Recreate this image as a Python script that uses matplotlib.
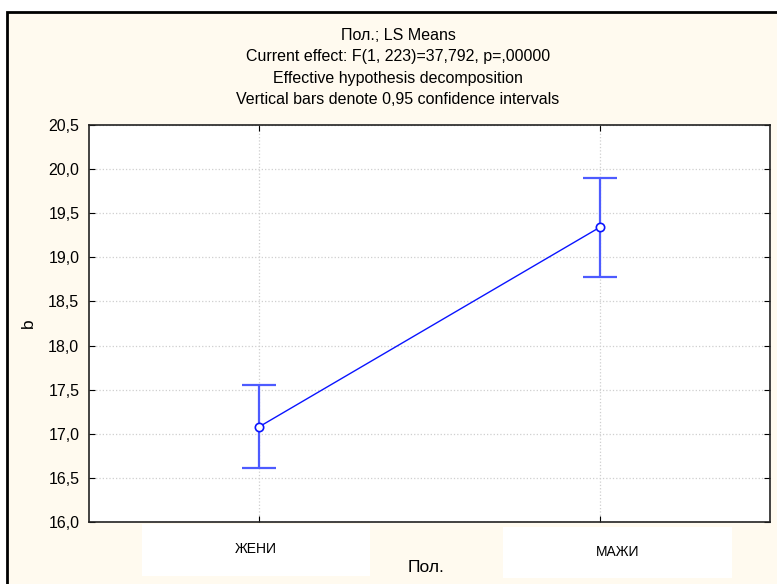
import matplotlib
matplotlib.use("Agg")
import matplotlib.pyplot as plt
from matplotlib.patches import Rectangle
import matplotlib.transforms as mtransforms

plt.rcParams['font.family'] = ['Liberation Sans', 'DejaVu Sans']

categories = ["ЖЕНИ", "МАЖИ"]
means = [17.08, 19.34]
ci_low = [16.61, 18.78]
ci_high = [17.55, 19.90]
yticks = [16.0, 16.5, 17.0, 17.5, 18.0, 18.5, 19.0, 19.5, 20.0, 20.5]
ytick_labels = ["16,0", "16,5", "17,0", "17,5", "18,0", "18,5", "19,0", "19,5", "20,0", "20,5"]
title_lines = ["Пол.; LS Means",
               "Current effect: F(1, 223)=37,792, p=,00000",
               "Effective hypothesis decomposition",
               "Vertical bars denote 0,95 confidence intervals"]

W, H = 777, 584
AX_L, AX_R, AX_T, AX_B = 89, 770, 125, 522
fig = plt.figure(figsize=(W / 100, H / 100), dpi=100)
fig.patch.set_facecolor('white')

# outer cream panel with black frame (cropped on right/bottom)
frame = Rectangle((7 / W, -0.05), 1.1, (H - 12) / H + 0.05, transform=fig.transFigure,
                  facecolor='#FFFAEF', edgecolor='black', linewidth=2, zorder=0)
fig.patches.append(frame)

ax = fig.add_axes([AX_L / W, 1 - AX_B / H, (AX_R - AX_L) / W, (AX_B - AX_T) / H])
ax.set_zorder(2)
ax.set_facecolor('white')

x = list(range(len(categories)))
err_lo = [m - l for m, l in zip(means, ci_low)]
err_hi = [h - m for m, h in zip(means, ci_high)]

ax.errorbar(x, means, yerr=[err_lo, err_hi], fmt='none', ecolor='#4D5BFF',
            elinewidth=1.6, capsize=12, capthick=1.6, zorder=3)
ax.plot(x, means, color='#0A14FF', linewidth=1.0, zorder=4)
ax.plot(x, means, linestyle='none', marker='o', markersize=6,
        markerfacecolor='white', markeredgecolor='#0A14FF', markeredgewidth=1.2, zorder=5)

ax.set_xlim(-0.5, 1.5)
ax.set_ylim(16.0, 20.5)
ax.set_yticks(yticks)
ax.set_yticklabels(ytick_labels, fontsize=11.5)
ax.set_xticks(x)
ax.set_xticklabels([""] * len(x))
ax.tick_params(axis='both', direction='in', length=4, width=0.8,
               top=True, right=True, colors='black')
ax.tick_params(axis='y', pad=7)
ax.grid(True, color='#CFCFCF', linestyle=':', linewidth=0.9)
ax.set_axisbelow(True)
for s in ax.spines.values():
    s.set_linewidth(1.2)
    s.set_color('#222222')

# white boxes behind the category labels (label centred in its box)
trans = mtransforms.blended_transform_factory(ax.transData, ax.transAxes)
ah = AX_B - AX_T
box_offsets = [(-0.344, 0.326, 524, 576), (-0.285, 0.388, 527, 578)]
for xi, lab, (lo, hi, yt, yb) in zip(x, categories, box_offsets):
    r = Rectangle((xi + lo, (AX_B - yb) / ah), hi - lo, (yb - yt) / ah, transform=trans,
                  facecolor='white', edgecolor='none', clip_on=False, zorder=0.5)
    ax.add_patch(r)
    ax.text(xi + (lo + hi) / 2, (AX_B - (yt + yb) / 2 + 1) / ah, lab, transform=trans,
            ha='center', va='center', fontsize=10, clip_on=False)

ax.set_xlabel("Пол.", fontsize=12.5)
ax.xaxis.set_label_coords((426 - AX_L) / (AX_R - AX_L), (AX_B - 567) / ah)
ax.xaxis.label.set_va('center')
ax.set_ylabel("b", fontsize=12.5)
ax.yaxis.set_label_coords((28 - AX_L) / (AX_R - AX_L), 0.5)
ax.yaxis.label.set_va('center')

for i, line in enumerate(title_lines):
    fig.text(398 / W, 1 - (36 + 21 * i) / H, line, ha='center', va='center', fontsize=11.5)

fig.savefig("out.png", dpi=100, facecolor=fig.get_facecolor())
